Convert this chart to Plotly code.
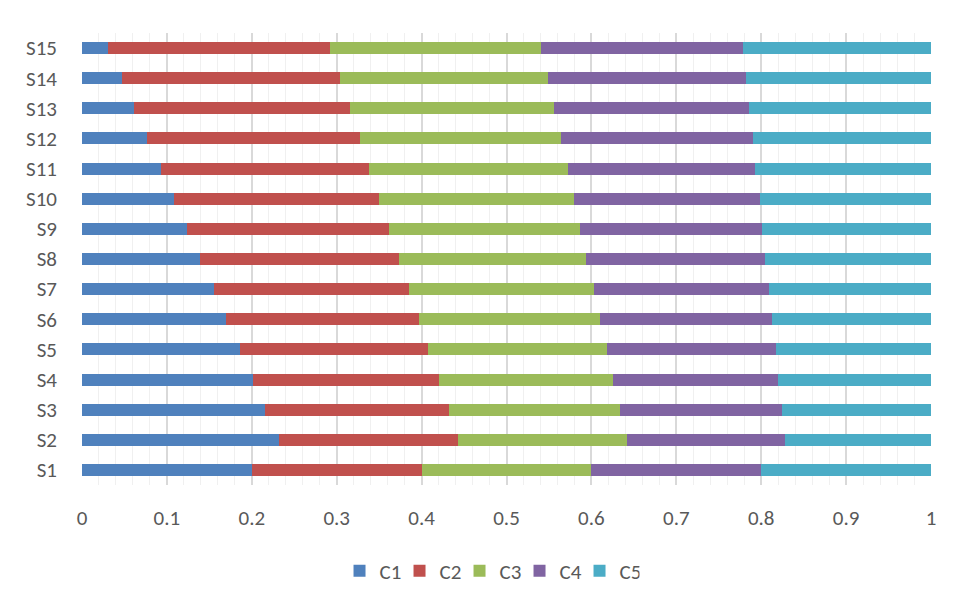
import plotly.graph_objects as go

series = ["S1", "S2", "S3", "S4", "S5", "S6", "S7", "S8", "S9", "S10", "S11", "S12", "S13", "S14", "S15"]
C1 = [0.200, 0.232, 0.216, 0.201, 0.186, 0.170, 0.155, 0.139, 0.124, 0.108, 0.093, 0.077, 0.061, 0.047, 0.031]
C2 = [0.200, 0.211, 0.216, 0.219, 0.222, 0.227, 0.2305, 0.234, 0.238, 0.242, 0.245, 0.250, 0.255, 0.257, 0.261]
C3 = [0.200, 0.199, 0.202, 0.206, 0.210, 0.213, 0.2175, 0.221, 0.225, 0.229, 0.234, 0.237, 0.240, 0.2445, 0.249]
C4 = [0.200, 0.186, 0.1905, 0.194, 0.199, 0.203, 0.206, 0.211, 0.214, 0.219, 0.221, 0.226, 0.230, 0.2335, 0.237]
C5 = [0.200, 0.172, 0.1755, 0.180, 0.183, 0.187, 0.191, 0.195, 0.199, 0.202, 0.207, 0.210, 0.214, 0.218, 0.222]
names = ["C1", "C2", "C3", "C4", "C5"]
colors = ["#4F81BD", "#C0504D", "#9BBB59", "#8064A2", "#4BACC6"]
xticks = [0, 0.1, 0.2, 0.3, 0.4, 0.5, 0.6, 0.7, 0.8, 0.9, 1]
xticklabels = ["0", "0.1", "0.2", "0.3", "0.4", "0.5", "0.6", "0.7", "0.8", "0.9", "1"]

fig = go.Figure()
for name, vals, col in zip(names, [C1, C2, C3, C4, C5], colors):
    fig.add_trace(go.Bar(y=series, x=vals, name=name, orientation="h",
                         marker=dict(color=col, line=dict(width=0))))

font = "Carlito, Calibri, Lato, sans-serif"
fig.update_layout(
    barmode="stack",
    bargap=0.6,
    width=956, height=607,
    margin=dict(l=74, r=33, t=25, b=130),
    paper_bgcolor="white", plot_bgcolor="white",
    font=dict(family=font, size=21, color="#595959"),
    showlegend=True,
    legend=dict(orientation="h", x=0.48, xanchor="center", y=-0.145, yanchor="top",
                font=dict(size=21, color="#595959"), traceorder="normal",
                itemwidth=30, entrywidth=15, entrywidthmode="pixels"),
    xaxis=dict(range=[0, 1], tickvals=xticks, ticktext=xticklabels,
               showgrid=True, gridcolor="#D9D9D9", gridwidth=1.5,
               zeroline=False, showline=False, ticks="",
               ticklabelstandoff=18,
               minor=dict(dtick=0.02, showgrid=True, gridcolor="#F0F0F0", gridwidth=1)),
    yaxis=dict(categoryorder="array", categoryarray=series, showgrid=False,
               zeroline=False, showline=False, ticks="", ticklabelstandoff=24),
    shapes=[dict(type="rect", xref="paper", yref="paper",
                 x0=-0.0883, x1=1.2, y0=-0.6, y1=1.064,
                 line=dict(color="#D9D9D9", width=1), layer="below")],
)

fig.write_html("out.html")
